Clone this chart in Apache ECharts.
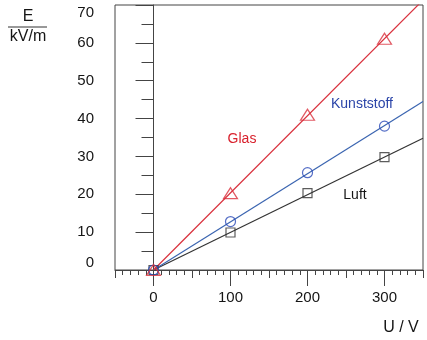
<!DOCTYPE html>
<html>
<head>
<meta charset="utf-8">
<script src="https://cdn.jsdelivr.net/npm/echarts@6/dist/echarts.min.js"></script>
<style>html,body{margin:0;padding:0;background:#fff}#c{width:427px;height:340px}</style>
</head>
<body>
<div id="c"></div>
<script>
// Data
const voltages = [0, 100, 200, 300];            // U / V
const glas = [0, 20.3, 41.0, 61.1];             // E / kV/m
const kunststoff = [0, 12.8, 25.7, 38.0];
const luft = [0, 9.9, 20.3, 29.8];
// fitted straight lines (through origin), endpoints at U = 0 and U = 350
const fitU = [0, 350];
const glasFit = [0, 71.3];
const kunststoffFit = [0, 44.5];
const luftFit = [0, 34.8];
const xTickLabels = [0, 100, 200, 300];
const yTickLabels = [0, 10, 20, 30, 40, 50, 60, 70];

const FONT = 'Liberation Sans';
const RED = '#d9303c', BLUE = '#3a64b0', BLUE_TXT = '#2a44a8', BLACK = '#333333';
const TXT = '#151515';

const pairs = (xs, ys) => xs.map((x, i) => [x, ys[i]]);
const chart = echarts.init(document.getElementById('c'));

function fitSeries(data, color) {
  return { type: 'line', data: data, symbol: 'none', clip: true, silent: true,
    lineStyle: { color: color, width: 1.2 }, z: 2 };
}
function ptSeries(data, symbol, size, color) {
  return { type: 'scatter', data: data, symbol: symbol, symbolSize: size, z: 3,
    itemStyle: { color: 'rgba(0,0,0,0)', borderColor: color, borderWidth: 1.2 } };
}

chart.setOption({
  animation: false,
  grid: { left: 115, right: 4, top: 5, bottom: 70, show: true, borderColor: '#444', borderWidth: 1 },
  xAxis: [{
    type: 'value', min: -50, max: 350, interval: 50,
    axisLine: { show: true, lineStyle: { color: '#444', width: 1 } },
    axisTick: { show: true, inside: false, length: 8, lineStyle: { color: '#444' } },
    minorTick: { show: true, splitNumber: 5, length: 5, lineStyle: { color: '#444' } },
    splitLine: { show: false }, minorSplitLine: { show: false },
    axisLabel: { show: true, margin: 20, color: TXT, fontFamily: FONT, fontSize: 15,
      formatter: v => xTickLabels.indexOf(v) >= 0 ? String(v) : '' }
  }, {
    type: 'value', min: -50, max: 350, position: 'bottom', gridIndex: 0,
    axisLine: { show: false },
    axisTick: { show: true, inside: false, length: 16, customValues: xTickLabels, lineStyle: { color: '#444' } },
    axisLabel: { show: false }, splitLine: { show: false }
  }],
  yAxis: {
    type: 'value', min: 0, max: 70, interval: 10,
    axisLine: { show: true, lineStyle: { color: '#444', width: 1 } },
    axisTick: { show: true, inside: false, length: 18, lineStyle: { color: '#444' } },
    minorTick: { show: true, splitNumber: 2, length: 12, lineStyle: { color: '#444' } },
    splitLine: { show: false }, minorSplitLine: { show: false },
    axisLabel: { show: true, margin: 21, color: TXT, fontFamily: FONT, fontSize: 15,
      verticalAlignMaxLabel: 'top', verticalAlignMinLabel: 'bottom',
      formatter: v => yTickLabels.indexOf(v) >= 0 ? String(v) : '' }
  },
  series: [
    fitSeries(pairs(fitU, luftFit), BLACK),
    fitSeries(pairs(fitU, kunststoffFit), BLUE),
    fitSeries(pairs(fitU, glasFit), RED),
    ptSeries(pairs(voltages, luft), 'rect', 9, BLACK),
    ptSeries(pairs(voltages, kunststoff), 'circle', 10, '#2a4ab8'),
    ptSeries(pairs(voltages, glas), 'triangle', [14, 11], RED)
  ],
  graphic: [
    { type: 'text', x: 28, y: 17, style: { text: 'E', fontFamily: FONT, fontSize: 16, fill: TXT, align: 'center', verticalAlign: 'middle' } },
    { type: 'line', shape: { x1: 8, y1: 27, x2: 47, y2: 27 }, style: { stroke: '#333', lineWidth: 1 } },
    { type: 'text', x: 28, y: 37, style: { text: 'kV/m', fontFamily: FONT, fontSize: 16, fill: TXT, align: 'center', verticalAlign: 'middle' } },
    { type: 'text', x: 401, y: 328, style: { text: 'U / V', fontFamily: FONT, fontSize: 16, fill: TXT, align: 'center', verticalAlign: 'middle' } },
    { type: 'text', x: 242, y: 139, style: { text: 'Glas', fontFamily: FONT, fontSize: 14, fill: '#d8202c', align: 'center', verticalAlign: 'middle' } },
    { type: 'text', x: 362, y: 104, style: { text: 'Kunststoff', fontFamily: FONT, fontSize: 14, fill: BLUE_TXT, align: 'center', verticalAlign: 'middle' } },
    { type: 'text', x: 355, y: 195, style: { text: 'Luft', fontFamily: FONT, fontSize: 14, fill: TXT, align: 'center', verticalAlign: 'middle' } }
  ]
});
</script>
</body>
</html>
